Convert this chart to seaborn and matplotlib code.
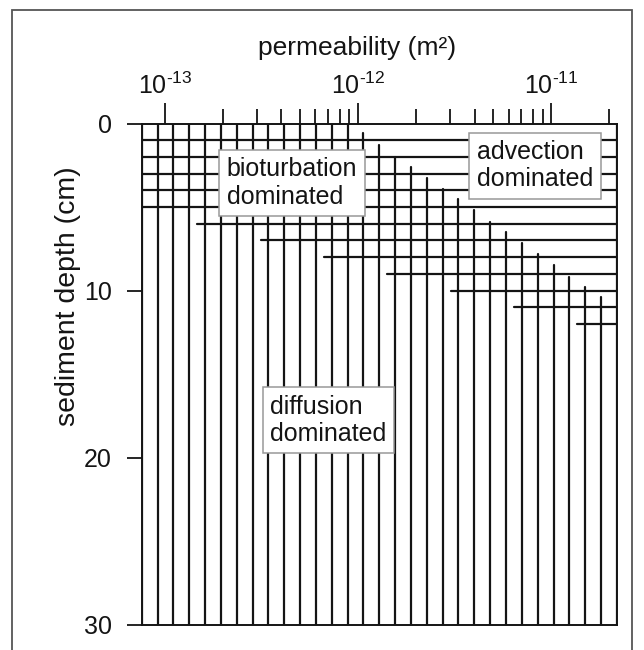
import numpy as np
import pandas as pd
import matplotlib
matplotlib.use("Agg")
import matplotlib.pyplot as plt
import seaborn as sns
from matplotlib.patches import Rectangle
from matplotlib.ticker import FixedLocator, FuncFormatter, NullFormatter

# ---------------- data ----------------
# permeability (m^2) positions of the vertical lines
col_perm = [7.55e-14, 9.12e-14, 1.10e-13, 1.33e-13, 1.61e-13, 1.94e-13, 2.35e-13,
            2.84e-13, 3.42e-13, 4.14e-13, 4.99e-13, 6.03e-13, 7.29e-13, 8.80e-13,
            1.06e-12, 1.28e-12, 1.55e-12, 1.87e-12, 2.26e-12, 2.74e-12, 3.30e-12,
            3.99e-12, 4.82e-12, 5.82e-12, 7.04e-12, 8.50e-12, 1.03e-11, 1.24e-11,
            1.50e-11, 1.81e-11, 2.18e-11]
# depth (cm) at which each vertical line starts
col_top = [0, 0, 0, 0, 0, 0, 0, 0, 0, 0, 0, 0, 0, 0,
           0.59, 1.29, 1.99, 2.63, 3.25, 3.94, 4.54, 5.18, 5.92, 6.52,
           7.14, 7.83, 8.47, 9.17, 9.81, 10.41, 0]
col_bottom = 30
# horizontal lines: depth and starting permeability (they run to the right edge)
row_depth = [1, 2, 3, 4, 5, 6, 7, 8, 9, 10, 11, 12]
row_start = [7.55e-14, 7.55e-14, 7.55e-14, 7.55e-14, 7.55e-14, 1.46e-13,
             3.12e-13, 6.63e-13, 1.41e-12, 3.01e-12, 6.40e-12, 1.36e-11]
row_end = 2.18e-11

major_ticks = [1e-13, 1e-12, 1e-11]
major_exps = [-13, -12, -11]
minor_ticks = [2e-13, 3e-13, 4e-13, 5e-13, 6e-13, 7e-13, 8e-13, 9e-13,
               2e-12, 3e-12, 4e-12, 5e-12, 6e-12, 7e-12, 8e-12, 9e-12, 2e-11]
depth_ticks = [0, 10, 20, 30]

regions = ["bioturbation\ndominated", "advection\ndominated", "diffusion\ndominated"]
region_x = [2.08e-13, 4.11e-12, 3.49e-13]
region_y = [3.56, 2.53, 17.77]

# ---------------- style ----------------
sns.set_theme(style="white")
plt.rcParams["font.family"] = ["Liberation Sans", "DejaVu Sans"]
plt.rcParams["mathtext.fontset"] = "custom"
plt.rcParams["mathtext.rm"] = "Liberation Sans"
plt.rcParams["mathtext.default"] = "regular"

INK = "#141414"
LW = 1.6

# segments table
segs = []
sid = 0
for xp, top in zip(col_perm, col_top):
    segs.append((sid, xp, top)); segs.append((sid, xp, col_bottom)); sid += 1
for d, xs in zip(row_depth, row_start):
    segs.append((sid, xs, d)); segs.append((sid, row_end, d)); sid += 1
df = pd.DataFrame(segs, columns=["seg", "perm", "depth"])

fig = plt.figure(figsize=(6.44, 6.5), dpi=100)
ax = fig.add_axes([141.7 / 644, (650 - 624.5) / 650, 475 / 644, 501 / 650])
ax.set_xscale("log")
sns.lineplot(data=df, x="perm", y="depth", units="seg", estimator=None, sort=False,
             color=INK, linewidth=LW, ax=ax, legend=False)

ax.set_xlim(col_perm[0], col_perm[-1])
ax.set_ylim(col_bottom, 0)

exp_of = dict(zip(major_ticks, major_exps))


def fmt(v, pos):
    for t, e in exp_of.items():
        if abs(v / t - 1) < 1e-6:
            return "$10^{\u2010" + str(abs(e)) + "}$"
    return ""


# x axis on top
ax.xaxis.tick_top()
ax.xaxis.set_label_position("top")
ax.xaxis.set_major_locator(FixedLocator(major_ticks))
ax.xaxis.set_minor_locator(FixedLocator(minor_ticks))
ax.xaxis.set_major_formatter(FuncFormatter(fmt))
ax.xaxis.set_minor_formatter(NullFormatter())
ax.tick_params(axis="x", which="major", direction="out", length=14.8, width=1.3,
               color=INK, labelsize=18, pad=2.5, labelcolor=INK)
ax.tick_params(axis="x", which="minor", direction="out", length=10.8, width=1.3, color=INK)
ax.set_yticks(depth_ticks)
ax.tick_params(axis="y", which="major", direction="out", length=10.8, width=1.3,
               color=INK, labelsize=18, pad=10.5, labelcolor=INK, left=True)

ax.set_xlabel("permeability (m²)", fontsize=19, color=INK)
ax.xaxis.set_label_coords(0.453, 1.136)
ax.set_ylabel("sediment depth (cm)", fontsize=20.5, color=INK)
ax.yaxis.set_label_coords(-0.128, 0.656)

for s in ax.spines.values():
    s.set_color(INK)
    s.set_linewidth(1.4)

for txt, x, y in zip(regions, region_x, region_y):
    ax.text(x, y, txt, ha="left", va="center", fontsize=18, color=INK,
            linespacing=1.17, zorder=10,
            bbox=dict(boxstyle="square,pad=0.3", fc="white", ec="#999999", lw=1.1))

# figure border
fig.add_artist(Rectangle((11.5 / 644, -0.02), (632 - 11.5) / 644, (650 - 10) / 650 + 0.02,
                         transform=fig.transFigure, fill=False, ec="#555555", lw=1.3))

fig.savefig("out.png", dpi=100)
